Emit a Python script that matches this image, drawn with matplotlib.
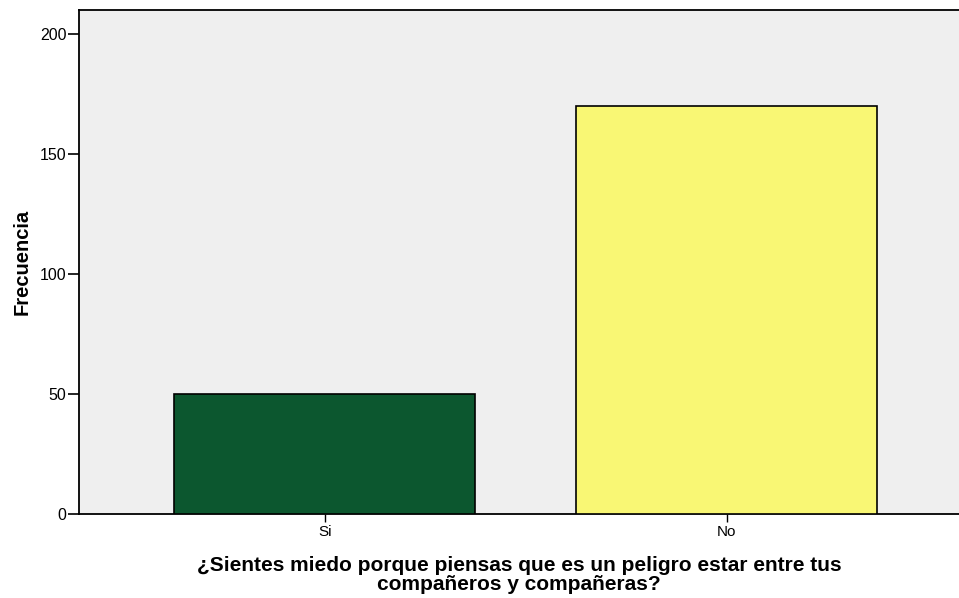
import matplotlib
matplotlib.use("Agg")
import matplotlib.pyplot as plt

categories = ["Si", "No"]
values = [50, 170]
colors = ["#0c572f", "#f9f774"]
yticks = [0, 50, 100, 150, 200]

plt.rcParams['font.family'] = ['Liberation Sans', 'DejaVu Sans']

fig = plt.figure(figsize=(9.59, 5.98), dpi=100)
ax = fig.add_axes([79/959, 1 - 514/598, (959 - 79)/959, (514 - 9.5)/598])
ax.set_facecolor("#efefef")
x = list(range(len(categories)))
ax.bar(x, values, width=0.75, color=colors, edgecolor="black", linewidth=1.2, zorder=3)
ax.set_xlim(-0.611, 1.578)
ax.set_ylim(0, 210.2)
ax.set_xticks(x)
ax.set_xticklabels(categories, fontsize=11)
ax.set_yticks(yticks)
ax.set_yticklabels([str(v) for v in yticks], fontsize=11.5)
ax.tick_params(axis='y', length=8, width=1.2, pad=1)
ax.tick_params(axis='x', length=6, width=1.0, pad=2)
for s in ["left", "bottom", "top"]:
    ax.spines[s].set_linewidth(1.3)
ax.spines["right"].set_visible(False)
ax.set_ylabel("Frecuencia", fontsize=14.5, fontweight="bold", labelpad=6)
ax.set_xlabel("¿Sientes miedo porque piensas que es un peligro estar entre tus\ncompañeros y compañeras?",
              fontsize=15, fontweight="bold", linespacing=1.02, labelpad=12)
fig.savefig("out.png", dpi=100)
